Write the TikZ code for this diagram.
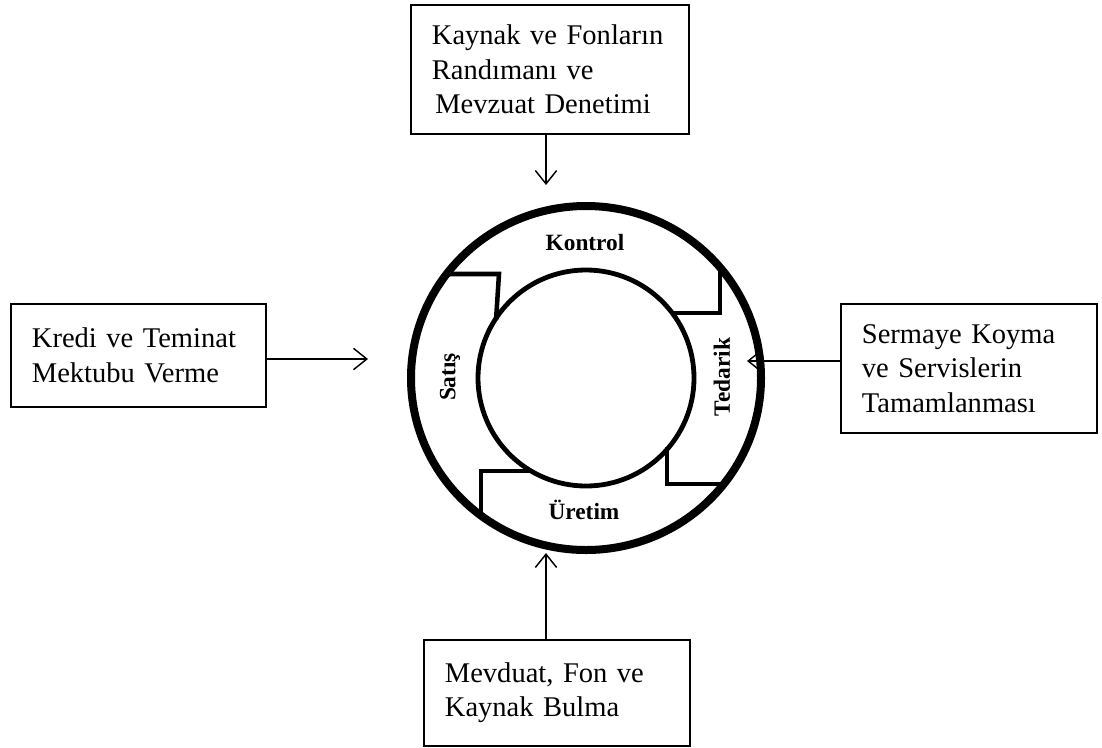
\documentclass[tikz,border=0pt]{standalone}
\usepackage{fontspec}
\setmainfont{Liberation Serif}
\usetikzlibrary{arrows.meta, positioning}

\begin{document}
\begin{tikzpicture}[
    x=0.75pt, y=-0.75pt,
    font=\fontsize{21.4}{25.8}\selectfont,
    box/.style={
        rectangle,
        draw=black,
        line width=1.4pt,
        inner xsep=15.75pt,
        align=left,
        anchor=north west
    },
    arrow/.style={-{Straight Barb[length=10pt,width=16pt]}, line width=1.1pt},
    ring/.style={line width=6pt},
    divider/.style={line width=3.4pt},
    labelstyle/.style={font=\fontsize{17.5}{19}\selectfont\bfseries}
]
\useasboundingbox (0,0) rectangle (1102,747);

% --- Halka ---
\coordinate (merkez) at (586,378);
\draw[ring] (merkez) ellipse [x radius=175, y radius=172];
\draw[line width=3.6pt] (merkez) circle [radius=108];

% --- Bölme çizgileri ---
\draw[divider] (447,274) -- (499,274) -- (496,320);
\draw[divider] (720,266) -- (720,313) -- (671,313);
\draw[divider] (667,447) -- (667,484) -- (725,484);
\draw[divider] (531,471) -- (481,471) -- (481,515);

% --- Halka etiketleri ---
\node[labelstyle] (kontrol) at (585,243) {Kontrol};
\node[labelstyle, rotate=90] (satis) at (450,377) {Satış};
\node[labelstyle, rotate=90] (tedarik) at (722,377) {Tedarik};
\node[labelstyle] (uretim) at (584,510) {Üretim};

% --- Kutular ---
\node[box, text width=177pt, minimum height=96.75pt] (denetim) at (410,4)
    {Kaynak ve Fonların\\Randımanı ve\\\hspace*{2.5pt}Mevzuat Denetimi};
\node[box, text width=159.75pt, minimum height=77.25pt] (kredi) at (10,303)
    {Kredi ve Teminat\\Mektubu Verme};
\node[box, text width=160.5pt, minimum height=96.75pt] (sermaye) at (840,303)
    {Sermaye Koyma\\ve Servislerin\\Tamamlanması};
\node[box, text width=168pt, minimum height=79.5pt] (mevduat) at (423,639)
    {Mevduat, Fon ve\\Kaynak Bulma};

% --- Oklar ---
\coordinate (ustuc) at (546,185);
\coordinate (soluc) at (368,359);
\coordinate (saguc) at (747,361);
\coordinate (altuc) at (546,553);
\draw[arrow] (denetim.south -| ustuc) -- (ustuc);
\draw[arrow] (kredi.east |- soluc) -- (soluc);
\draw[arrow] (sermaye.west |- saguc) -- (saguc);
\draw[arrow] (mevduat.north -| altuc) -- (altuc);

\end{tikzpicture}
\end{document}
